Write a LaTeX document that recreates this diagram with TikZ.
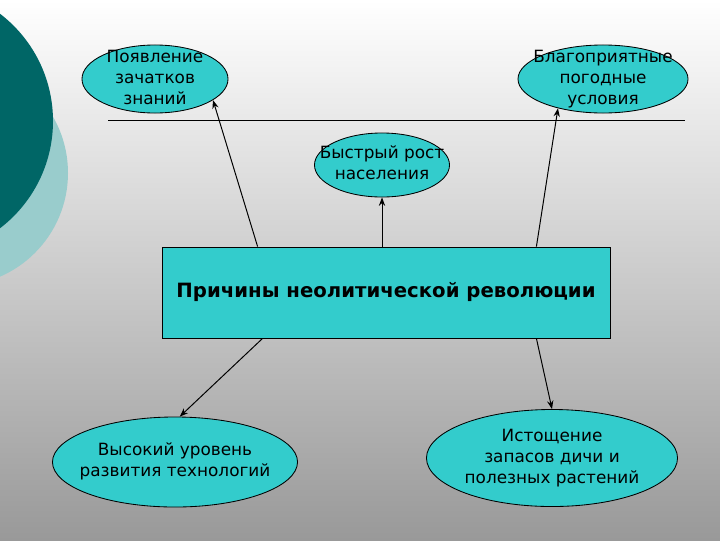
\documentclass[tikz,border=0pt]{standalone}
\usepackage{fontspec}
\setmainfont{DejaVu Sans}
\usetikzlibrary{shapes.geometric, arrows.meta, calc}

\definecolor{tealdark}{RGB}{0,102,102}
\definecolor{teallight}{RGB}{153,204,204}
\definecolor{ovalfill}{RGB}{51,204,204}

% text of an oval, kept out of the oval's size
\newcommand\ovaltext[1]{\smash{\raisebox{-0.25em}{\makebox[0pt]{\begin{tabular}{@{}c@{}}#1\end{tabular}}}}}

\begin{document}
\begin{tikzpicture}[x=0.025cm, y=-0.025cm,
	oval/.style={ellipse, draw=black, line width=0.6pt, fill=ovalfill, inner sep=0pt, font=\fontsize{12}{15}\selectfont},
	link/.style={line width=0.7pt, -{Stealth[length=6pt, width=4.5pt]}}]
	\useasboundingbox (0,0) rectangle (720,540);
	\clip (0,0) rectangle (720,540);
	\shade[top color=white, bottom color=black!40] (0,0) rectangle (720,540);
	% two circles at the left edge
	\fill[teallight] (-45,173) circle (113);
	\fill[tealdark] (-82,121) circle (135);
	\coordinate (L) at (108,120);
	\coordinate (R) at (685,120);
	\draw[line width=0.6pt] (L) -- (R);
	\node[oval, minimum width=3.65cm, minimum height=1.7cm] (knowledge) at (155,79) {\ovaltext{Появление\\зачатков\\знаний}};
	\node[oval, minimum width=4.25cm, minimum height=1.7cm] (weather) at (603,79) {\ovaltext{Благоприятные\\погодные\\условия}};
	\node[oval, minimum width=3.375cm, minimum height=1.6cm] (growth) at (382,165) {\ovaltext{Быстрый рост\\населения}};
	\node[draw=black, line width=0.6pt, fill=ovalfill, minimum width=11.2cm, minimum height=2.275cm,
		font=\fontsize{14}{17}\selectfont\bfseries] (cause) at (386,292.5) {Причины неолитической революции};
	\node[oval, minimum width=6.125cm, minimum height=2.25cm] (tech) at (175,462) {\ovaltext{Высокий уровень\\развития технологий}};
	\node[oval, minimum width=6.275cm, minimum height=2.425cm] (depletion) at (552,458) {\ovaltext{Истощение\\запасов дичи и\\полезных растений}};
	% arrows out of the central box
	\draw[link] ($(cause.north west)!0.214!(cause.north east)$) -- (knowledge.-20);
	\draw[link] ($(cause.north west)!0.835!(cause.north east)$) -- (weather.-147);
	\draw[link] (growth.south |- cause.north) -- (growth.south);
	\draw[link] ($(cause.south west)!0.225!(cause.south east)$) -- (tech.84);
	\draw[link] ($(cause.south west)!0.835!(cause.south east)$) -- (depletion.north);
\end{tikzpicture}
\end{document}
